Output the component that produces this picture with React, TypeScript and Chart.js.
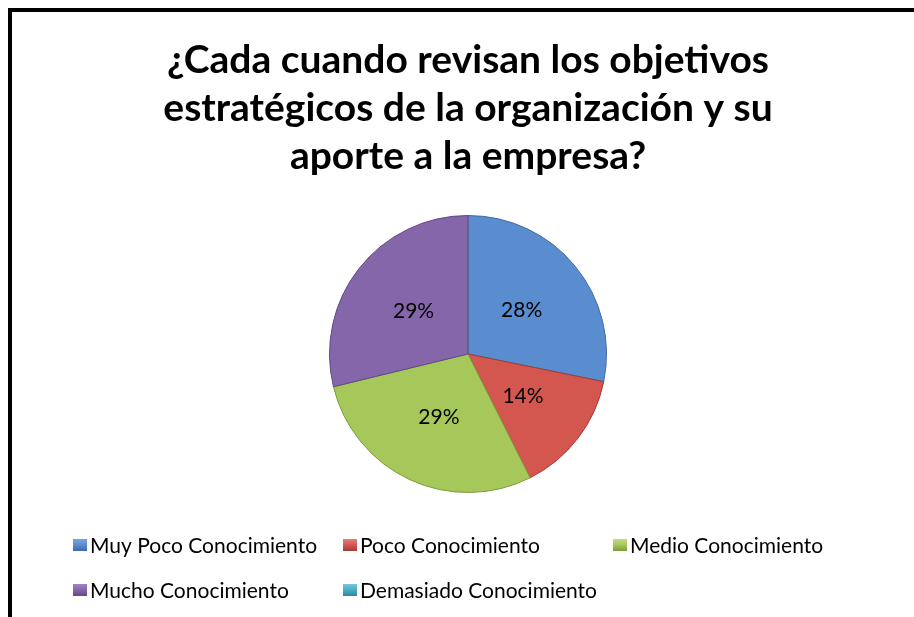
import React, { useEffect, useRef } from "react";
import { Chart, registerables } from "chart.js";

Chart.register(...registerables);

const titleLines = [
  "¿Cada cuando revisan los objetivos",
  "estratégicos de la organización y su",
  "aporte a la empresa?",
];

const categories = [
  "Muy Poco Conocimiento",
  "Poco Conocimiento",
  "Medio Conocimiento",
  "Mucho Conocimiento",
  "Demasiado Conocimiento",
];

const percentages = [28.2, 14.4, 28.6, 28.8, 0];

const sliceColors = ["#5a8dd0", "#d3564f", "#a6c75a", "#8566aa", "#4bacc6"];
const sliceEdges = ["#3e6aa3", "#a13c37", "#7d9a3e", "#614883", "#31859c"];
const sliceHighlights = ["#7aa6e0", "#e47f78", "#c2dd82", "#a184c4", "#7ac6da"];

const FONT = "Lato, 'Open Sans', sans-serif";

const dataLabelPlugin = {
  id: "sliceLabels",
  afterDatasetsDraw(chart: any) {
    const ctx = chart.ctx;
    const meta = chart.getDatasetMeta(0);
    const values = chart.data.datasets[0].data as number[];
    ctx.save();
    ctx.font = `21px ${FONT}`;
    ctx.fillStyle = "#000000";
    ctx.textAlign = "center";
    ctx.textBaseline = "middle";
    meta.data.forEach((arc: any, i: number) => {
      const v = values[i];
      if (!v) return;
      const { x, y, startAngle, endAngle, outerRadius } = arc.getProps(
        ["x", "y", "startAngle", "endAngle", "outerRadius"],
        true
      );
      const mid = (startAngle + endAngle) / 2;
      const r = outerRadius * 0.5;
      ctx.fillText(`${Math.round(v)}%`, x + Math.cos(mid) * r, y + Math.sin(mid) * r);
    });
    ctx.restore();
  },
};

const legendPlugin = {
  id: "gridLegend",
  afterDraw(chart: any) {
    const ctx = chart.ctx;
    const labels = chart.data.labels as string[];
    const startX = 61;
    const colW = 270;
    const startY = 533;
    const rowH = 45;
    const cols = 3;
    ctx.save();
    ctx.font = `21px ${FONT}`;
    ctx.textBaseline = "middle";
    ctx.textAlign = "left";
    labels.forEach((label, i) => {
      const cx = startX + (i % cols) * colW;
      const cy = startY + Math.floor(i / cols) * rowH;
      const mw = 14;
      const mh = 12;
      const g = ctx.createLinearGradient(0, cy - mh / 2, 0, cy + mh / 2);
      g.addColorStop(0, sliceHighlights[i]);
      g.addColorStop(0.5, sliceColors[i]);
      g.addColorStop(1, sliceEdges[i]);
      ctx.fillStyle = g;
      ctx.fillRect(cx, cy - mh / 2, mw, mh);
      ctx.fillStyle = "#000000";
      ctx.fillText(label, cx + 17, cy + 1);
    });
    ctx.restore();
  },
};

function sliceFill(context: any) {
  const i = context.dataIndex;
  const chart = context.chart;
  const meta = chart.getDatasetMeta(0);
  const arc = meta.data[i];
  if (!chart.chartArea || !arc || !arc.outerRadius) return sliceColors[i];
  const { x, y, outerRadius } = arc;
  const g = chart.ctx.createRadialGradient(x, y, 0, x, y, outerRadius);
  g.addColorStop(0, sliceColors[i]);
  g.addColorStop(0.86, sliceColors[i]);
  g.addColorStop(0.95, sliceHighlights[i]);
  g.addColorStop(1, sliceEdges[i]);
  return g;
}

export default function App() {
  const canvasRef = useRef<HTMLCanvasElement | null>(null);

  useEffect(() => {
    if (!canvasRef.current) return;
    const chart = new Chart(canvasRef.current, {
      type: "pie",
      data: {
        labels: categories,
        datasets: [
          {
            data: percentages,
            backgroundColor: sliceFill as any,
            borderColor: sliceEdges,
            borderWidth: 1,
          },
        ],
      },
      options: {
        animation: false,
        responsive: false,
        maintainAspectRatio: false,
        layout: { padding: { left: 10, right: 0, top: 0, bottom: 124 } },
        plugins: {
          legend: { display: false },
          tooltip: { enabled: false },
          title: {
            display: true,
            text: titleLines,
            color: "#000000",
            font: { family: FONT, size: 39, weight: "bold", lineHeight: 48 / 39 },
            padding: { top: 24, bottom: 35 },
          },
        },
      },
      plugins: [dataLabelPlugin, legendPlugin],
    });
    return () => chart.destroy();
  }, []);

  return (
    <div
      style={{
        position: "fixed",
        left: 8,
        top: 8,
        width: 906,
        height: 609,
        boxSizing: "border-box",
        borderTop: "4px solid #000",
        borderLeft: "4px solid #000",
        background: "#fff",
      }}
    >
      <canvas ref={canvasRef} width={902} height={605} style={{ display: "block" }} />
    </div>
  );
}
